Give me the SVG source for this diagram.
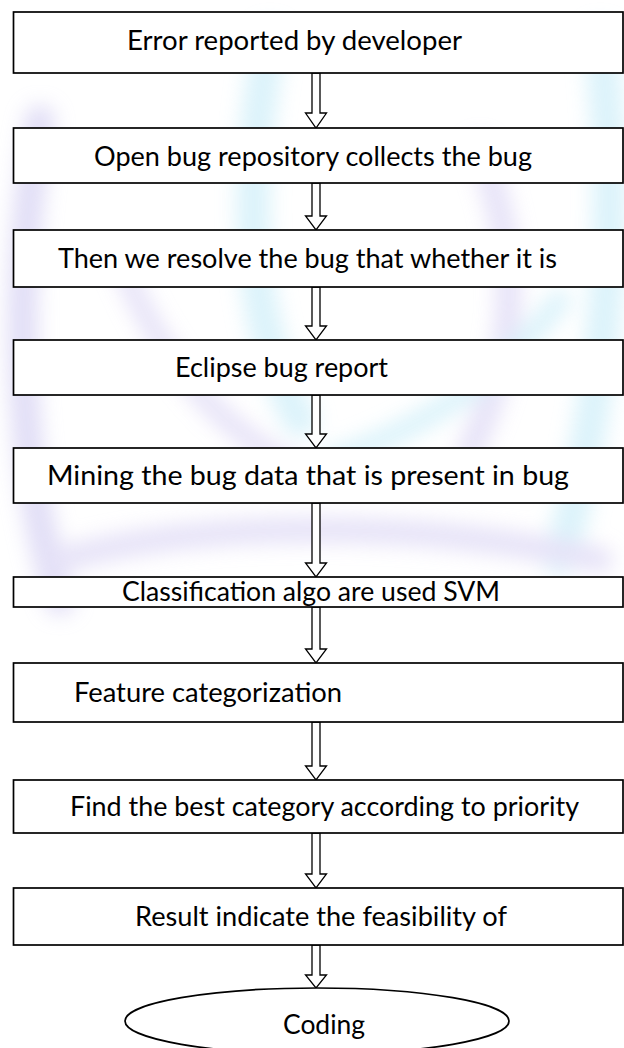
<svg xmlns="http://www.w3.org/2000/svg" width="624" height="1048" viewBox="0 0 624 1048">
<style>
.box{fill:#fff;stroke:#000;stroke-width:1.7}
.lbl{font-family:Lato,"Open Sans","Liberation Sans",sans-serif;font-size:26px;fill:#000}
.arr{fill:#fff;stroke:#000;stroke-width:1.3;stroke-linejoin:miter}
.wm{fill:none;stroke-linecap:round}
</style>
<defs>
<filter id="blur" x="-20%" y="-20%" width="140%" height="140%"><feGaussianBlur stdDeviation="10"/></filter>
<clipPath id="c6"><rect x="14" y="578" width="608" height="28.5"/></clipPath>
</defs>
<rect width="624" height="1048" fill="#fff"/>
<g id="watermark" filter="url(#blur)" opacity="0.55">
<path class="wm" d="M40,120 C10,300 20,480 60,600" stroke="#c9c3ef" stroke-width="30"/>
<path class="wm" d="M270,40 C240,200 250,330 300,420" stroke="#bfe9f7" stroke-width="34"/>
<path class="wm" d="M600,40 C620,200 610,380 560,560" stroke="#bfe9f7" stroke-width="34"/>
<path class="wm" d="M480,150 C520,250 520,350 470,450" stroke="#d3ccf2" stroke-width="26"/>
<path class="wm" d="M120,260 C160,360 220,430 300,470" stroke="#d3ccf2" stroke-width="22"/>
<path class="wm" d="M330,460 C420,430 500,380 560,300" stroke="#bfe9f7" stroke-width="22"/>
<path class="wm" d="M60,560 C200,520 420,520 600,560" stroke="#d3ccf2" stroke-width="26"/>
</g>
<g id="connectors">
<polygon class="arr" points="312,73 312,113 305.5,113 316,128 326.5,113 320,113 320,73"/>
<polygon class="arr" points="312,183 312,216 305.5,216 316,230 326.5,216 320,216 320,183"/>
<polygon class="arr" points="312,287 312,326 305.5,326 316,340 326.5,326 320,326 320,287"/>
<polygon class="arr" points="312,395 312,434 305.5,434 316,448 326.5,434 320,434 320,395"/>
<polygon class="arr" points="312,503 312,563 305.5,563 316,577 326.5,563 320,563 320,503"/>
<polygon class="arr" points="312,607 312,649 305.5,649 316,663 326.5,649 320,649 320,607"/>
<polygon class="arr" points="312,722 312,766 305.5,766 316,780 326.5,766 320,766 320,722"/>
<polygon class="arr" points="312,833 312,874 305.5,874 316,888 326.5,874 320,874 320,833"/>
<polygon class="arr" points="312,945 312,975 305.5,975 316,988 326.5,975 320,975 320,945"/>
</g>
<g id="n1"><rect class="box" x="13.5" y="12" width="609.5" height="61"/><text class="lbl" x="127" y="50" textLength="335" lengthAdjust="spacingAndGlyphs">Error reported by developer</text></g>
<g id="n2"><rect class="box" x="13.5" y="128" width="609.5" height="55"/><text class="lbl" x="94" y="166" textLength="438" lengthAdjust="spacingAndGlyphs">Open bug repository collects the bug</text></g>
<g id="n3"><rect class="box" x="13.5" y="230" width="609.5" height="57"/><text class="lbl" x="58" y="268" textLength="499" lengthAdjust="spacingAndGlyphs">Then we resolve the bug that whether it is</text></g>
<g id="n4"><rect class="box" x="13.5" y="340" width="609.5" height="55"/><text class="lbl" x="175" y="377" textLength="213" lengthAdjust="spacingAndGlyphs">Eclipse bug report</text></g>
<g id="n5"><rect class="box" x="13.5" y="448" width="609.5" height="55"/><text class="lbl" x="47" y="485" textLength="522" lengthAdjust="spacingAndGlyphs">Mining the bug data that is present in bug</text></g>
<g id="n6"><rect class="box" x="13.5" y="577" width="609.5" height="30"/><text class="lbl" x="122" y="601" textLength="378" lengthAdjust="spacingAndGlyphs" clip-path="url(#c6)">Classification algo are used SVM</text></g>
<g id="n7"><rect class="box" x="13.5" y="663" width="609.5" height="59"/><text class="lbl" x="74" y="702" textLength="268" lengthAdjust="spacingAndGlyphs">Feature categorization</text></g>
<g id="n8"><rect class="box" x="13.5" y="780" width="609.5" height="53"/><text class="lbl" x="70" y="816" textLength="509" lengthAdjust="spacingAndGlyphs">Find the best category according to priority</text></g>
<g id="n9"><rect class="box" x="13.5" y="888" width="609.5" height="57"/><text class="lbl" x="135" y="926" textLength="372" lengthAdjust="spacingAndGlyphs">Result indicate the feasibility of</text></g>
<g id="n10"><ellipse class="box" cx="317" cy="1021" rx="192" ry="33"/><text class="lbl" x="283" y="1034" textLength="82" lengthAdjust="spacingAndGlyphs">Coding</text></g>
</svg>
